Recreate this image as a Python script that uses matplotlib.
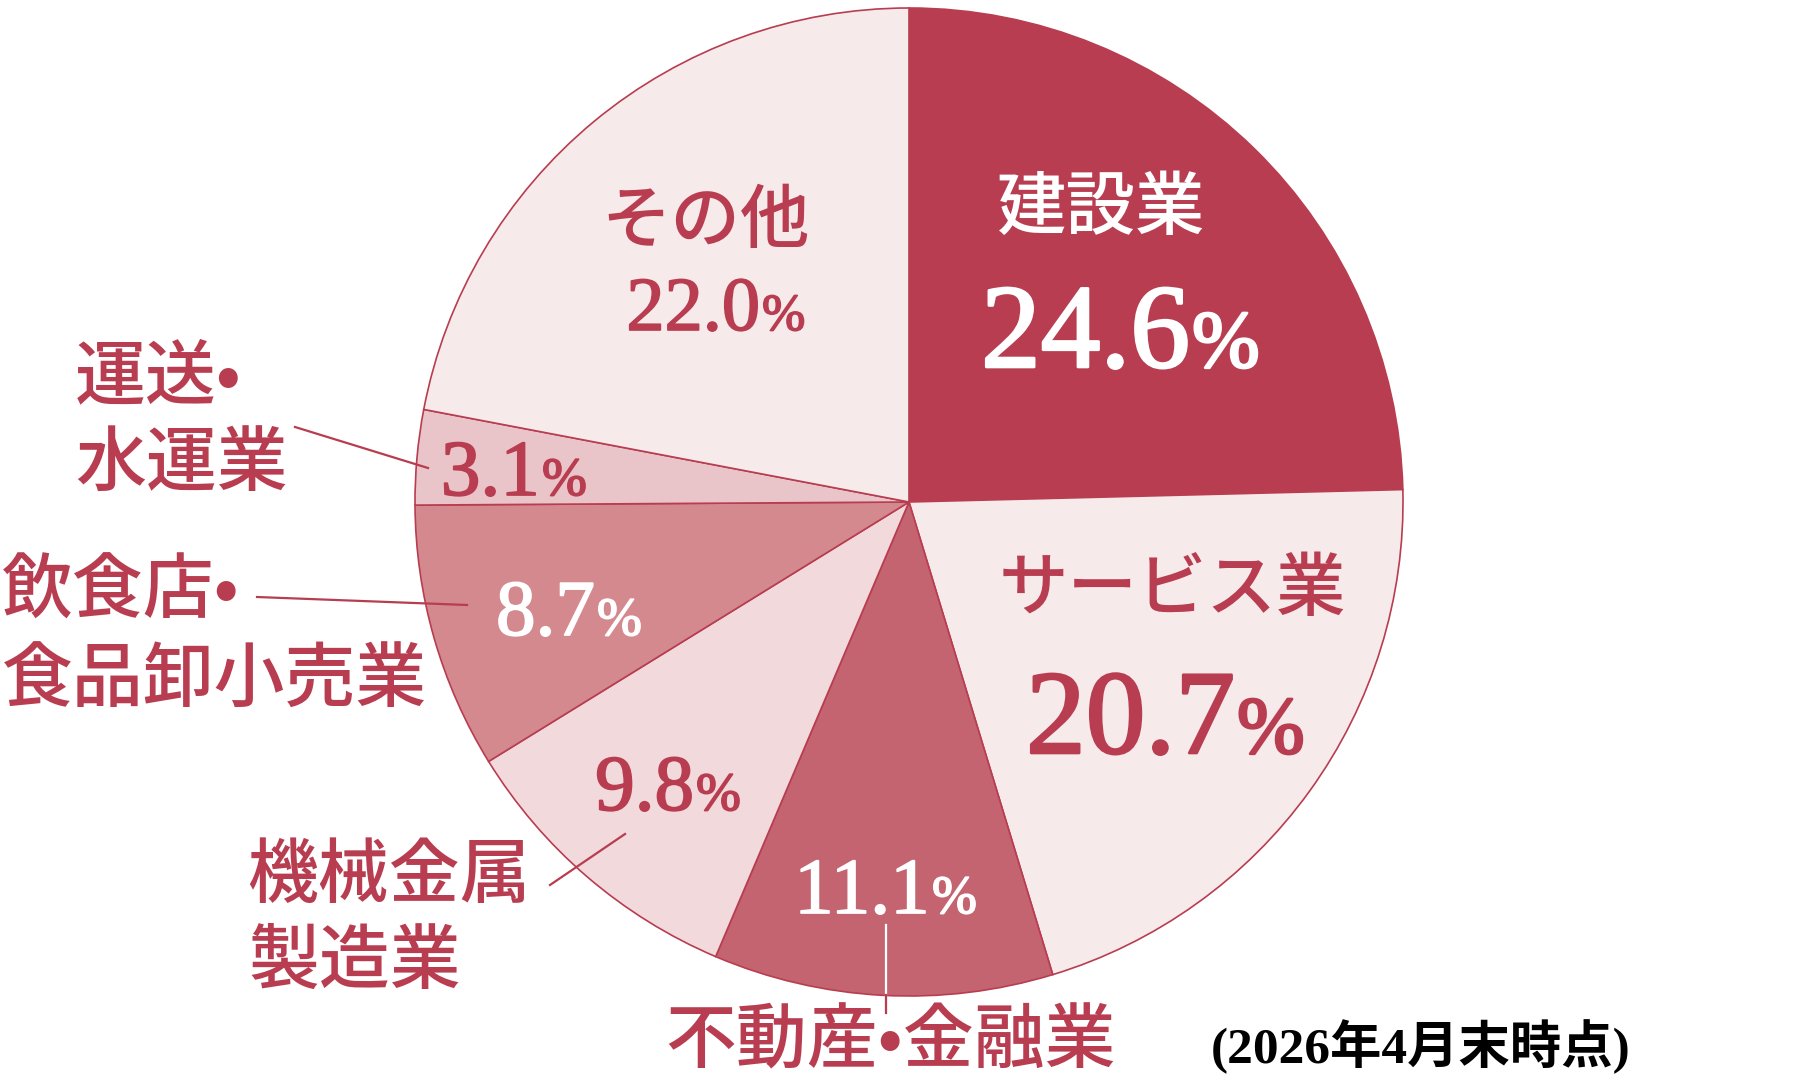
import matplotlib
matplotlib.use("Agg")
import matplotlib.pyplot as plt
import matplotlib.patheffects as pe

# 業種別構成比 (%)
industries = ["建設業", "サービス業", "不動産・金融業", "機械金属製造業",
              "飲食店・食品卸小売業", "運送・水運業", "その他"]
shares = [24.6, 20.7, 11.1, 9.8, 8.7, 3.1, 22.0]
slice_colors = ["#B83D50", "#F7EAEB", "#C46470", "#F1D9DC",
                "#D4898F", "#E9C4C8", "#F7EAEB"]
note = "(2026年4月末時点)"

RED = "#B83D50"
JP = ["Noto Sans CJK JP", "DejaVu Sans"]
SERIF = ["Liberation Serif", "Noto Sans CJK JP"]

W, H = 1811, 1090
fig = plt.figure(figsize=(W / 100, H / 100), dpi=100)
ax = fig.add_axes([0, 0, 1, 1])

cx, cy, r = 909, 502, 494
# y軸を反転しているので startangle=-90 / counterclock=True で「12時から時計回り」
ax.set_ylim(H, 0)
ax.pie(shares, colors=slice_colors, startangle=-90, counterclock=True,
       center=(cx, cy), radius=r, frame=True,
       wedgeprops=dict(edgecolor=RED, linewidth=1.2))
ax.set_xlim(0, W)
ax.set_ylim(H, 0)   # 画像と同じ座標 (y下向き)
ax.set_aspect("equal")
ax.axis("off")


def put_pct(x, y, val, size, color):
    # Liberation Serif を少し太らせてセミボールド風に
    fx = [pe.withStroke(linewidth=size / 45, foreground=color)]
    t = ax.text(x, y, f"{val:.1f}", fontsize=size, color=color,
                family=SERIF, ha="right", va="baseline", path_effects=fx)
    ax.annotate("%", xy=(1, y), xycoords=(t, "data"),
                xytext=(2, 0), textcoords="offset pixels",
                fontsize=size * 0.68, color=color, family=SERIF,
                ha="left", va="baseline", path_effects=fx)


def put_jp(x, y, s, color=RED, ha="left", size=51):
    ax.text(x, y, s, fontsize=size, color=color, family=JP,
            weight="medium", ha=ha, va="center")


# スライス内のラベル
put_jp(1101, 209, industries[0], color="white", ha="center", size=50)
put_pct(1190, 367, shares[0], 86, "white")

put_jp(1172, 590, industries[1], ha="center", size=50)
put_pct(1235, 753, shares[1], 86, RED)

put_jp(706, 222, industries[6], ha="center", size=50)
put_pct(760, 330, shares[6], 55, RED)

put_pct(930, 913, shares[2], 57, "white")
put_pct(694, 810, shares[3], 57, RED)
put_pct(595, 635, shares[4], 57, "white")
put_pct(540, 495, shares[5], 57, RED)

# 外側のラベル
put_jp(75, 378, "運送•")
put_jp(75, 465, "水運業")
put_jp(2, 593, "飲食店•")
put_jp(2, 682, "食品卸小売業")
put_jp(247, 877, "機械金属")
put_jp(248, 963, "製造業")
put_jp(890, 1042, "不動産•金融業", ha="center")

# 引き出し線
lw = 1.6
ax.plot([295, 428], [427, 468], color=RED, lw=lw)
ax.plot([257, 467], [597, 605], color=RED, lw=lw)
ax.plot([550, 625], [885, 834], color=RED, lw=lw)
ax.plot([886, 886], [925, 995], color="white", lw=lw)
ax.plot([886, 886], [995, 1013], color=RED, lw=lw)

ax.text(1211, 1047, note, fontsize=37, color="black", family=SERIF,
        weight="bold", ha="left", va="center")

fig.savefig("out.png", dpi=100, facecolor="white")
